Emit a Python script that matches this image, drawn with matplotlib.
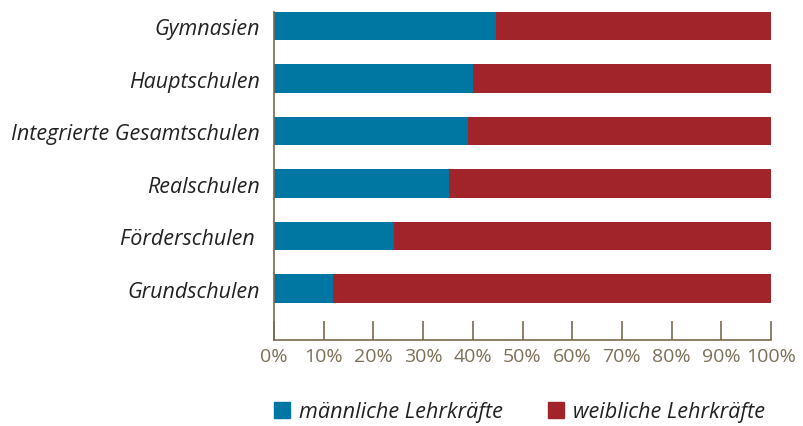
import matplotlib
matplotlib.use("Agg")
import matplotlib.pyplot as plt
from matplotlib.patches import Patch

categories = ['Grundschulen', 'Förderschulen ', 'Realschulen',
              'Integrierte Gesamtschulen', 'Hauptschulen', 'Gymnasien']
male = [11.9, 24.1, 35.2, 39.0, 40.1, 44.7]
female = [100 - v for v in male]
xticks = [0, 10, 20, 30, 40, 50, 60, 70, 80, 90, 100]

BLUE = '#0077a3'
RED = '#a0242a'
AXIS = '#7a6a50'
TICKTXT = '#7d7058'

plt.rcParams['font.family'] = ['Open Sans', 'DejaVu Sans']

fig = plt.figure(figsize=(8.04, 4.27), dpi=100)
ax = fig.add_axes([274 / 804, 1 - 341 / 427, 497 / 804, 328 / 427])

y = range(len(categories))
ax.barh(y, male, height=0.54, color=BLUE, label='männliche Lehrkräfte')
ax.barh(y, female, left=male, height=0.54, color=RED, label='weibliche Lehrkräfte')

ax.set_xlim(0, 100)
ax.set_ylim(-0.98, 5.27)
ax.set_xticks(xticks)
ax.set_xticklabels([f'{t}%' for t in xticks], color=TICKTXT, fontsize=14)
ax.set_yticks(list(y))
ax.set_yticklabels(categories, fontsize=15.5, style='italic', color='#222222')

for s in ['top', 'right']:
    ax.spines[s].set_visible(False)
for s in ['left', 'bottom']:
    ax.spines[s].set_color(AXIS)
    ax.spines[s].set_linewidth(1.2)

ax.tick_params(axis='x', direction='in', length=14, width=1.2, color=AXIS, pad=5)
ax.tick_params(axis='y', length=0, pad=10)

handles = [Patch(color=BLUE), Patch(color=RED)]
fig.legend(handles, ['männliche Lehrkräfte', 'weibliche Lehrkräfte'],
           loc='center left', bbox_to_anchor=(274 / 804, 1 - 413 / 427), ncol=2,
           frameon=False, borderpad=0, borderaxespad=0,
           handlelength=0.75, handleheight=0.75, handletextpad=0.42,
           columnspacing=2.05, prop={'style': 'italic', 'size': 15.6},
           labelcolor='#222222')

fig.savefig('out.png', dpi=100)
